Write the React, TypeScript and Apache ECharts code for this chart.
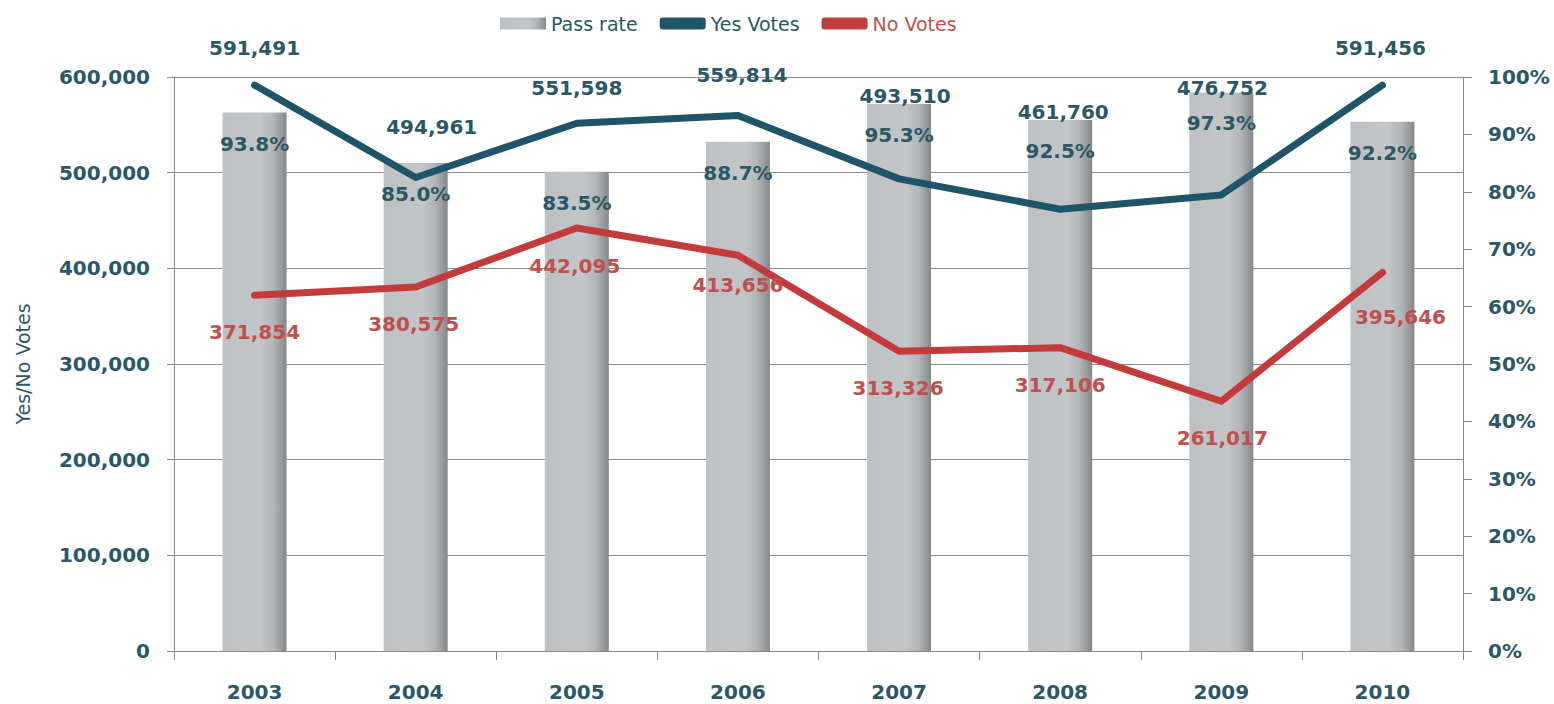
import React, { useEffect, useRef } from "react";
import * as echarts from "echarts";

const years = ["2003", "2004", "2005", "2006", "2007", "2008", "2009", "2010"];
const passRate = [93.8, 85.0, 83.5, 88.7, 95.3, 92.5, 97.3, 92.2];
const yesVotes = [591491, 494961, 551598, 559814, 493510, 461760, 476752, 591456];
const noVotes = [371854, 380575, 442095, 413656, 313326, 317106, 261017, 395646];

// label placement (layout only)
const yesLabelOffsets = [[0, -37], [16, -50], [0, -35], [4, -40], [6, -83], [3, -97], [1, -107], [-2, -37]];
const noLabelOffsets = [[0, 37], [-2, 37], [-2, 38], [0, 30], [-1, 37], [0, 37], [1, 37], [18, 45]];

const TEAL_TEXT = "#2b5866";
const TEAL_LINE = "#1e5568";
const RED_LINE = "#c43b3c";
const RED_TEXT = "#c0504d";
const FONT = "DejaVu Sans";

const fmt = (v: number) => v.toLocaleString("en-US");

export default function App() {
  const ref = useRef<HTMLDivElement>(null);
  useEffect(() => {
    if (!ref.current) return;
    const chart = echarts.init(ref.current, null, { renderer: "svg" });
    const barGradient = new echarts.graphic.LinearGradient(0, 0, 1, 0, [
      { offset: 0, color: "#bdc1c4" },
      { offset: 0.6, color: "#c2c6c9" },
      { offset: 0.8, color: "#b3b6b9" },
      { offset: 1, color: "#85888b" },
    ]);
    chart.setOption({
      animation: false,
      backgroundColor: "#ffffff",
      textStyle: { fontFamily: FONT },
      legend: {
        left: 495,
        top: 9,
        itemWidth: 46,
        itemHeight: 12,
        itemGap: 22,
        textStyle: { fontFamily: FONT, fontSize: 19 },
        data: [
          { name: "Pass rate", icon: "rect", textStyle: { color: TEAL_TEXT } },
          { name: "Yes Votes", icon: "roundRect", textStyle: { color: TEAL_TEXT } },
          { name: "No Votes", icon: "roundRect", textStyle: { color: RED_TEXT } },
        ],
      },
      grid: { left: 174, right: 91, top: 77, bottom: 53, containLabel: false },
      xAxis: {
        type: "category",
        data: years,
        axisLine: { lineStyle: { color: "#8a8a8a", width: 1 } },
        axisTick: { show: true, length: 9, lineStyle: { color: "#8a8a8a" } },
        axisLabel: {
          color: TEAL_TEXT,
          fontSize: 20,
          lineHeight: 20,
          fontWeight: "bold",
          fontFamily: FONT,
          margin: 31,
        },
      },
      yAxis: [
        {
          type: "value",
          min: 0,
          max: 600000,
          interval: 100000,
          name: "Yes/No Votes",
          nameLocation: "middle",
          nameGap: 142,
          nameTextStyle: { color: TEAL_TEXT, fontSize: 19, fontFamily: FONT },
          axisLine: { show: true, lineStyle: { color: "#8a8a8a" } },
          axisTick: { show: true, length: 7, lineStyle: { color: "#8a8a8a" } },
          splitLine: { show: true, lineStyle: { color: "#8e8e8e", width: 1 } },
          axisLabel: {
            color: TEAL_TEXT,
            fontSize: 20,
            fontWeight: "bold",
            fontFamily: FONT,
            margin: 24,
            formatter: (v: number) => fmt(v),
          },
        },
        {
          type: "value",
          min: 0,
          max: 100,
          interval: 10,
          position: "right",
          axisLine: { show: true, lineStyle: { color: "#8a8a8a" } },
          axisTick: { show: true, length: 9, lineStyle: { color: "#8a8a8a" } },
          splitLine: { show: false },
          axisLabel: {
            color: TEAL_TEXT,
            fontSize: 20,
            fontWeight: "bold",
            fontFamily: FONT,
            margin: 25,
            formatter: "{value}%",
          },
        },
      ],
      series: [
        {
          name: "Pass rate",
          type: "bar",
          yAxisIndex: 1,
          barWidth: 64,
          data: passRate,
          itemStyle: { color: barGradient },
          label: {
            show: true,
            position: "insideTop",
            distance: 21,
            color: TEAL_TEXT,
            fontSize: 20,
            fontWeight: "bold",
            fontFamily: FONT,
            formatter: (p: any) => p.value.toFixed(1) + "%",
          },
          z: 1,
        },
        {
          name: "Yes Votes",
          type: "line",
          yAxisIndex: 0,
          symbol: "circle",
          symbolSize: 6,
          itemStyle: { color: TEAL_LINE },
          lineStyle: { color: TEAL_LINE, width: 7, cap: "round", join: "round" },
          data: yesVotes.map((v, i) => ({ value: v, label: { offset: yesLabelOffsets[i] } })),
          label: {
            show: true,
            position: "inside",
            color: TEAL_TEXT,
            fontSize: 20,
            fontWeight: "bold",
            fontFamily: FONT,
            formatter: (p: any) => fmt(p.value),
          },
          z: 3,
        },
        {
          name: "No Votes",
          type: "line",
          yAxisIndex: 0,
          symbol: "circle",
          symbolSize: 6,
          itemStyle: { color: RED_LINE },
          lineStyle: { color: RED_LINE, width: 7, cap: "round", join: "round" },
          data: noVotes.map((v, i) => ({ value: v, label: { offset: noLabelOffsets[i] } })),
          label: {
            show: true,
            position: "inside",
            color: RED_TEXT,
            fontSize: 20,
            fontWeight: "bold",
            fontFamily: FONT,
            formatter: (p: any) => fmt(p.value),
          },
          z: 3,
        },
      ],
    });
    return () => chart.dispose();
  }, []);
  return (
    <div
      ref={ref}
      style={{ position: "fixed", left: 0, top: 0, width: 1554, height: 704, background: "#fff" }}
    />
  );
}
